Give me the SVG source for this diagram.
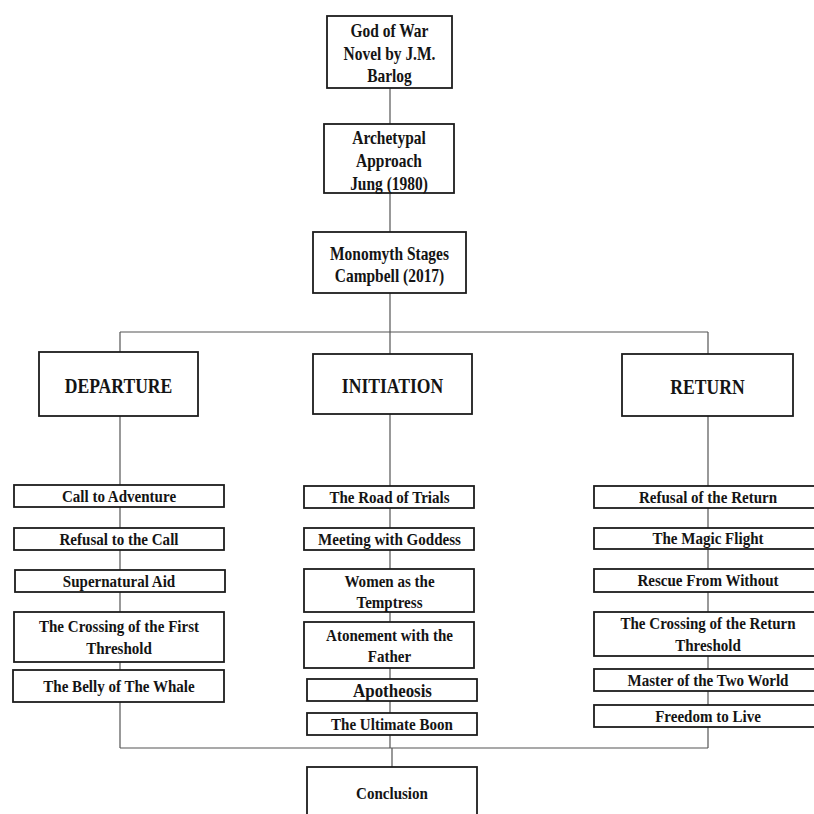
<svg xmlns="http://www.w3.org/2000/svg" width="814" height="814" viewBox="0 0 814 814">
<style>
.bg{fill:#fff}
.box{fill:#fff;stroke:#1c1c1c;stroke-width:1.8}
.ln{fill:none;stroke:#555;stroke-width:1.2}
.t{font-family:"Liberation Serif","Times New Roman",serif;font-weight:bold;text-anchor:middle;fill:#141414}
.t18{font-size:18px}
.t20{font-size:20px}
.t16{font-size:16px}
</style>
<rect class="bg" x="0" y="0" width="814" height="814"/>
<g id="connectors">
<path class="ln" d="M390 88V124M390 193V232M390 293V354M120 332H708M120 332V352M708 332V354"/>
<path class="ln" d="M120 416V748M390 414V748M708 416V748M120 748H708M392 748V767"/>
</g>
<g id="god-of-war">
<rect class="box" x="327" y="16" width="125" height="72"/>
<text class="t t18" transform="translate(389.5,37) scale(0.86,1)">God of War</text>
<text class="t t18" transform="translate(389.5,60) scale(0.86,1)">Novel by J.M.</text>
<text class="t t18" transform="translate(389.5,82) scale(0.86,1)">Barlog</text>
</g>
<g id="archetypal">
<rect class="box" x="324" y="124" width="130" height="69"/>
<text class="t t18" transform="translate(389,144) scale(0.86,1)">Archetypal</text>
<text class="t t18" transform="translate(389,167) scale(0.86,1)">Approach</text>
<text class="t t18" transform="translate(389,190) scale(0.86,1)">Jung (1980)</text>
</g>
<g id="monomyth">
<rect class="box" x="313" y="232" width="153" height="61"/>
<text class="t t18" transform="translate(389.5,260) scale(0.86,1)">Monomyth Stages</text>
<text class="t t18" transform="translate(389.5,282) scale(0.86,1)">Campbell (2017)</text>
</g>
<g id="departure">
<rect class="box" x="39" y="352" width="159" height="64"/>
<text class="t t20" transform="translate(118.5,393) scale(0.88,1)">DEPARTURE</text>
</g>
<g id="initiation">
<rect class="box" x="313" y="354" width="159" height="60"/>
<text class="t t20" transform="translate(392.5,393) scale(0.88,1)">INITIATION</text>
</g>
<g id="return">
<rect class="box" x="622" y="354" width="171" height="62"/>
<text class="t t20" transform="translate(707.5,394) scale(0.88,1)">RETURN</text>
</g>
<g id="call-to-adventure">
<rect class="box" x="14" y="485" width="210" height="22"/>
<text class="t t16" transform="translate(119,501.5) scale(0.94,1)">Call to Adventure</text>
</g>
<g id="refusal-to-the-call">
<rect class="box" x="14" y="528" width="210" height="22"/>
<text class="t t16" transform="translate(119,544.5) scale(0.94,1)">Refusal to the Call</text>
</g>
<g id="supernatural-aid">
<rect class="box" x="15" y="570" width="210" height="22"/>
<text class="t t16" transform="translate(119,586.5) scale(0.94,1)">Supernatural Aid</text>
</g>
<g id="crossing-first">
<rect class="box" x="14" y="612" width="210" height="50"/>
<text class="t t16" transform="translate(119,632) scale(0.94,1)">The Crossing of the First</text>
<text class="t t16" transform="translate(119,654) scale(0.94,1)">Threshold</text>
</g>
<g id="belly-of-the-whale">
<rect class="box" x="13" y="670" width="211" height="32"/>
<text class="t t16" transform="translate(119,691.5) scale(0.94,1)">The Belly of The Whale</text>
</g>
<g id="road-of-trials">
<rect class="box" x="304" y="486" width="170" height="22"/>
<text class="t t16" transform="translate(389.5,502.5) scale(0.94,1)">The Road of Trials</text>
</g>
<g id="meeting-with-goddess">
<rect class="box" x="304" y="528" width="170" height="22"/>
<text class="t t16" transform="translate(389.5,544.5) scale(0.94,1)">Meeting with Goddess</text>
</g>
<g id="women-temptress">
<rect class="box" x="304" y="569" width="170" height="43"/>
<text class="t t16" transform="translate(389.5,587) scale(0.94,1)">Women as the</text>
<text class="t t16" transform="translate(389.5,608) scale(0.94,1)">Temptress</text>
</g>
<g id="atonement">
<rect class="box" x="304" y="622" width="170" height="46"/>
<text class="t t16" transform="translate(389.5,641) scale(0.94,1)">Atonement with the</text>
<text class="t t16" transform="translate(389.5,662) scale(0.94,1)">Father</text>
</g>
<g id="apotheosis">
<rect class="box" x="307" y="679" width="170" height="22"/>
<text class="t" style="font-size:18px" transform="translate(392.5,696.5) scale(0.94,1)">Apotheosis</text>
</g>
<g id="ultimate-boon">
<rect class="box" x="307" y="713" width="170" height="22"/>
<text class="t t16" transform="translate(392,729.5) scale(0.94,1)">The Ultimate Boon</text>
</g>
<g id="refusal-of-the-return">
<rect class="box" x="594" y="486" width="228" height="22"/>
<text class="t t16" transform="translate(708,502.5) scale(0.94,1)">Refusal of the Return</text>
</g>
<g id="magic-flight">
<rect class="box" x="594" y="528" width="228" height="21"/>
<text class="t t16" transform="translate(708,544) scale(0.94,1)">The Magic Flight</text>
</g>
<g id="rescue-from-without">
<rect class="box" x="594" y="569" width="228" height="23"/>
<text class="t t16" transform="translate(708,586) scale(0.94,1)">Rescue From Without</text>
</g>
<g id="crossing-return">
<rect class="box" x="594" y="612" width="228" height="44"/>
<text class="t t16" transform="translate(708,629) scale(0.94,1)">The Crossing of the Return</text>
<text class="t t16" transform="translate(708,651) scale(0.94,1)">Threshold</text>
</g>
<g id="master-two-world">
<rect class="box" x="594" y="669" width="228" height="22"/>
<text class="t t16" transform="translate(708,685.5) scale(0.94,1)">Master of the Two World</text>
</g>
<g id="freedom-to-live">
<rect class="box" x="594" y="705" width="228" height="22"/>
<text class="t t16" transform="translate(708,721.5) scale(0.94,1)">Freedom to Live</text>
</g>
<g id="conclusion">
<rect class="box" x="307" y="767" width="170" height="60"/>
<text class="t t16" transform="translate(392,799) scale(0.94,1)">Conclusion</text>
</g>
</svg>
